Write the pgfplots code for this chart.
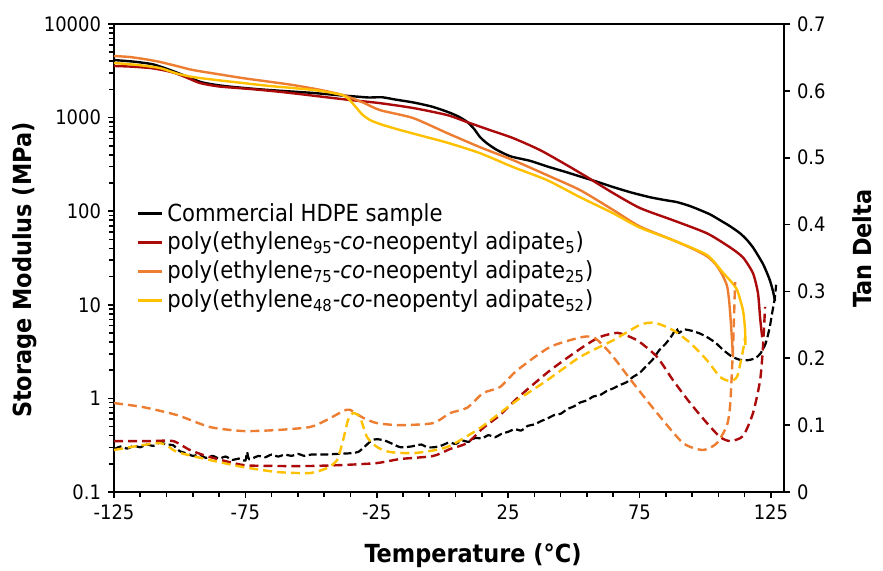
\documentclass[border=0pt]{standalone}
\usepackage{pgfplots}
\pgfplotsset{compat=1.18}
\usepackage{fontspec}
\setmainfont{DejaVu Sans Condensed}
\usetikzlibrary{calc}

\definecolor{cred}{RGB}{170,10,10}
\definecolor{corange}{RGB}{237,125,49}
\definecolor{cyellow}{RGB}{255,192,0}

\pgfplotsset{
  common/.style={
    scale only axis, width=335bp, height=234bp,
    xmin=-125, xmax=130,
    tick align=outside,
    major tick length=3bp, minor tick length=2.5bp,
    tick style={line width=0.8bp, black},
    axis line style={line width=0.9bp},
    ticklabel style={font=\fontsize{10}{12}\selectfont},
    /pgf/number format/assume math mode=true,
    label style={font=\fontsize{12.5}{14}\selectfont\bfseries, inner sep=0pt},
  },
  solid/.style={line width=1.2bp, smooth, tension=0.4, no marks},
  dash/.style={line width=1.2bp, smooth, tension=0.4, no marks, dash pattern=on 4.5bp off 2.5bp},
}

\begin{document}
\begin{tikzpicture}
\begin{axis}[common, name=main,
    ymode=log, ymin=0.1, ymax=10000,
    tick pos=left,
    xtick={-125,-75,...,125}, minor xtick={-125,-115,...,125},
    xticklabels={-125,-75,-25,25,75,125},
    ytick={0.1,1,10,100,1000,10000},
    yticklabels={0.1,1,10,100,1000,10000},
    minor ytick={0.2,0.3,0.4,0.5,0.6,0.7,0.8,0.9,2,3,4,5,6,7,8,9,20,30,40,50,60,70,80,90,
                 200,300,400,500,600,700,800,900,2000,3000,4000,5000,6000,7000,8000,9000},
    xlabel={Temperature (°C)}, ylabel={Storage Modulus (MPa)},
    xlabel style={at={(axis description cs:0.536,-0.135)}, anchor=center},
    ylabel style={at={(axis description cs:-0.133,0.474)}, anchor=center},
    legend style={at={(0.024,0.635)}, anchor=north west, draw=none, fill=none,
                  font=\fontsize{11.8}{13}\selectfont, row sep=0bp},
    legend cell align=left,
    legend image code/.code={\draw[#1, line width=1.5bp] (0bp,0bp) -- (12bp,0bp);},
]
% storage modulus, commercial HDPE
\addplot[solid, black] coordinates {
 (-125,4120) (-117,3950) (-110,3700) (-104,3250) (-98,2800) (-92,2400) (-86,2230) (-80,2130)
 (-70,2010) (-60,1920) (-50,1840) (-40,1740) (-33,1680) (-28,1640) (-23,1650) (-18,1560)
 (-11,1450) (-4,1310) (2,1150) (6,1030) (9.4,900) (12,760) (14.3,620) (17,530) (20.8,450)
 (26,385) (33.4,345) (40,300) (47.4,260) (52.4,235) (58,210) (65,181) (72,158) (79,141)
 (85,131) (89.3,125) (94,114) (98,103) (102,92) (105.7,80) (109.5,69) (113.3,58) (116,49)
 (118.2,41) (120.3,33) (122.1,27) (123.5,22) (124.7,18) (125.8,14) (126.6,11)};
% poly95
\addplot[solid, cred] coordinates {
 (-125,3560) (-118,3500) (-111,3380) (-106,3200) (-101.8,2990) (-97,2650) (-92.3,2340)
 (-85,2150) (-73,2020) (-63,1900) (-54,1780) (-45,1660) (-35,1540) (-24,1430) (-11,1264)
 (1.8,1065) (9.4,895) (18.1,735) (26.9,604) (37.2,449) (47.4,310) (55.1,231) (65,156)
 (75.2,108) (87.8,80) (100.7,58) (109.5,41) (114.4,32) (118.2,21.7) (120.1,13.3)
 (120.9,7.3) (121.7,4.5)};
% poly75
\addplot[solid, corange] coordinates {
 (-125,4550) (-119,4440) (-113,4200) (-107.5,3930) (-101,3550) (-94.9,3220) (-85,2900)
 (-75.9,2640) (-66,2420) (-56.9,2230) (-47,1990) (-37.8,1740) (-30,1440) (-23.7,1200)
 (-11.2,990) (1.8,683) (14.3,483) (26.9,351) (39.8,243) (52.4,168) (65,103) (75,69)
 (87.8,49) (95,40) (100.7,33) (104,27) (106.5,21) (108.3,16) (109.1,11.2) (109.8,6.3)
 (110.3,3.8) (110.6,2.75)};
% poly48
\addplot[solid, cyellow] coordinates {
 (-125,3830) (-116,3650) (-107.5,3380) (-101,2950) (-94.9,2710) (-85,2500) (-75.9,2340)
 (-66,2180) (-56.9,2070) (-47,1940) (-38,1740) (-35.5,1560) (-33,1300) (-30.5,1080)
 (-27.5,940) (-23,840) (-16,735) (-8,640) (1.8,540) (14.3,417) (26.9,296) (39.8,215)
 (52.4,141) (65,95) (75,67) (87.8,49) (100.7,34) (106.8,22) (110,17.5) (112.2,14.3)
 (114.4,8.7) (115.2,5.3) (115.3,3.7)};
\legend{Commercial HDPE sample,
  poly(ethylene\textsubscript{95}-\textit{co}-neopentyl adipate\textsubscript{5}),
  poly(ethylene\textsubscript{75}-\textit{co}-neopentyl adipate\textsubscript{25}),
  poly(ethylene\textsubscript{48}-\textit{co}-neopentyl adipate\textsubscript{52})}
\end{axis}

\begin{axis}[common,
    ymin=0, ymax=0.7,
    axis x line=none, axis y line*=right,
    y axis line style={-},
    ytick={0,0.1,0.2,0.3,0.4,0.5,0.6,0.7},
    yticklabel style={/pgf/number format/fixed, /pgf/number format/precision=1},
    ylabel={Tan Delta},
    ylabel style={at={(axis description cs:1.116,0.52)}, anchor=center},
]
% tan delta, commercial HDPE (noisy)
\addplot[dash, black, line width=1.1bp, smooth=false, dash pattern=on 4bp off 1.8bp] coordinates {
 (-125,0.064) (-122.5,0.068) (-120,0.065) (-117.5,0.069) (-115,0.067) (-112.5,0.071)
 (-110,0.069) (-107.5,0.074) (-105,0.071) (-102.5,0.070) (-100,0.061) (-97.5,0.058)
 (-95,0.054) (-92.5,0.056) (-90,0.051) (-87.5,0.054) (-85,0.050) (-82.5,0.053) (-80,0.048)
 (-77.5,0.050) (-75,0.047) (-74.4,0.060) (-73.5,0.049) (-70,0.054) (-67.5,0.052) (-65,0.056)
 (-62.5,0.053) (-60,0.056) (-57.5,0.054) (-55,0.057) (-52.5,0.054) (-50,0.056) (-45,0.056)
 (-40,0.057) (-35,0.058) (-32,0.060) (-29,0.070) (-27,0.077) (-25,0.079) (-22,0.077)
 (-19,0.072) (-16,0.067) (-12,0.068) (-8,0.071) (-6,0.067) (-3,0.067) (0,0.070) (2.5,0.074)
 (5,0.072) (7.5,0.077) (10,0.075) (12.5,0.081) (15,0.080) (17.5,0.085) (20,0.082)
 (22.5,0.087) (25,0.090) (27.5,0.094) (30,0.092) (32.5,0.099) (35,0.101) (37.5,0.106)
 (40,0.110) (42.5,0.115) (45,0.117) (47.5,0.124) (50,0.128) (52.5,0.134) (55,0.137)
 (57.5,0.143) (60,0.145) (62.5,0.151) (65,0.155) (67.5,0.160) (70,0.164) (72.5,0.172)
 (75,0.178) (77.5,0.188) (80,0.198) (82.5,0.212) (85,0.222) (87.5,0.235) (89,0.245)
 (90,0.238) (92,0.243) (95,0.241) (98,0.237) (101,0.231) (104,0.223) (107,0.212)
 (110,0.203) (113,0.198) (116,0.197) (119,0.200) (121,0.207) (123,0.222) (124.5,0.245)
 (125.5,0.268) (126.5,0.290) (127,0.310)};
% poly95
\addplot[dash, cred] coordinates {
 (-125,0.0762) (-111.3,0.0762) (-102.5,0.0762) (-96.1,0.0628) (-88.5,0.0523) (-75.9,0.0404)
 (-63,0.0389) (-50.4,0.0389) (-37.8,0.0404) (-24.9,0.0433) (-16.1,0.0493) (-3.6,0.0538)
 (2.9,0.0643) (9.4,0.0732) (15.5,0.0957) (21.9,0.115) (28.4,0.140) (41,0.182) (53.5,0.217)
 (60,0.232) (66.5,0.238) (71.4,0.232) (75.2,0.224) (81.7,0.202) (87.8,0.167) (94.3,0.133)
 (100.7,0.103) (105.7,0.0822) (109.5,0.0762) (114.4,0.0837) (118.2,0.118) (120.9,0.167)
 (122,0.217) (122.8,0.277)};
% poly75
\addplot[dash, corange] coordinates {
 (-125,0.133) (-114,0.127) (-101,0.115) (-88.5,0.0972) (-75.9,0.0912) (-63,0.0927)
 (-50.4,0.0972) (-43.9,0.108) (-37.8,0.121) (-35.2,0.123) (-30.2,0.111) (-24.9,0.103)
 (-16.1,0.100) (-3.6,0.103) (2.9,0.118) (9.4,0.126) (15.5,0.148) (21.9,0.157) (28.4,0.182)
 (41,0.217) (53.5,0.232) (58.1,0.230) (63.8,0.208) (72.6,0.163) (81.7,0.118) (91.6,0.0732)
 (99.2,0.0628) (104.5,0.0732) (108.3,0.100) (109.5,0.130) (110.6,0.217) (111.4,0.314)};
% poly48
\addplot[dash, cyellow] coordinates {
 (-125,0.0628) (-107.5,0.0732) (-101,0.0598) (-88.5,0.0478) (-75.9,0.0374) (-63,0.0299)
 (-50.4,0.0284) (-43.9,0.0359) (-40.1,0.0478) (-37.8,0.0777) (-35.9,0.108) (-34,0.118)
 (-31.4,0.112) (-28.7,0.0822) (-24.9,0.0673) (-19.9,0.0598) (-10.4,0.0583) (1.8,0.0673)
 (14.3,0.0957) (26.9,0.133) (39.8,0.167) (52.4,0.202) (65,0.227) (75.2,0.250) (80.9,0.253)
 (87.8,0.242) (94.3,0.223) (100.7,0.197) (105.7,0.172) (109.5,0.166) (112.2,0.173)
 (114.4,0.212) (115.2,0.232)};
\end{axis}
\path ($(main.south west)+(-57bp,-39.5bp)$) rectangle ($(main.north east)+(49.5bp,12bp)$);
\end{tikzpicture}
\end{document}
